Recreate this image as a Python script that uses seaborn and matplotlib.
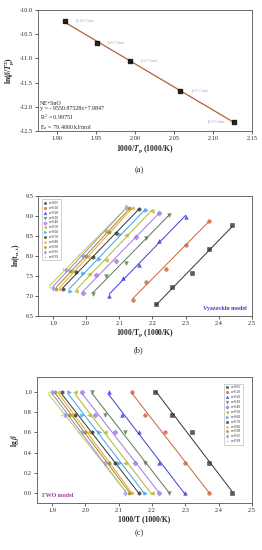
import numpy as np
import matplotlib
matplotlib.use("Agg")
import matplotlib.pyplot as plt
import seaborn as sns

sns.set_style("ticks")
plt.rcParams['font.family'] = ['Liberation Serif', 'DejaVu Serif']
plt.rcParams['mathtext.fontset'] = 'stix'

# panel (a): Kissinger plot
kis_x = [1.910, 1.951, 1.993, 2.058, 2.127]
kis_y = [-10.22, -10.69, -11.06, -11.68, -12.31]
rates = ['10', '6', '4', '2', '1']
rate_cols = ['#8fb0d8', '#a8a0b8', '#a0b8a8', '#8fb0d8', '#a898c0']

# panels (b), (c): isoconversional data, heating rates 10, 6, 4, 2, 1 °C/min
alphas = ['0.05', '0.10', '0.20', '0.30', '0.40', '0.50',
          '0.60', '0.70', '0.80', '0.90', '0.95', '0.99']
lg_beta = [1.0, 0.778, 0.602, 0.301, 0.0]
inv_T = [
    [2.21, 2.26, 2.32, 2.37, 2.44],
    [2.14, 2.18, 2.24, 2.30, 2.37],
    [2.07, 2.11, 2.16, 2.22, 2.30],
    [2.02, 2.06, 2.12, 2.18, 2.25],
    [1.99, 2.03, 2.09, 2.15, 2.22],
    [1.97, 2.01, 2.06, 2.12, 2.20],
    [1.95, 1.99, 2.04, 2.10, 2.18],
    [1.93, 1.97, 2.02, 2.09, 2.16],
    [1.92, 1.96, 2.01, 2.07, 2.14],
    [1.91, 1.95, 2.00, 2.07, 2.13],
    [1.90, 1.94, 1.99, 2.06, 2.12],
    [1.89, 1.93, 1.98, 2.06, 2.12],
]
ln_t = [
    [6.79, 7.23, 7.56, 8.17, 8.76],
    [6.90, 7.34, 7.68, 8.28, 8.87],
    [7.00, 7.44, 7.78, 8.38, 8.98],
    [7.05, 7.49, 7.83, 8.44, 9.03],
    [7.08, 7.53, 7.87, 8.48, 9.08],
    [7.11, 7.55, 7.90, 8.52, 9.12],
    [7.13, 7.58, 7.93, 8.54, 9.14],
    [7.16, 7.60, 7.96, 8.57, 9.17],
    [7.17, 7.62, 7.98, 8.59, 9.19],
    [7.18, 7.63, 7.99, 8.60, 9.20],
    [7.20, 7.65, 8.00, 8.62, 9.21],
    [7.21, 7.66, 8.01, 8.63, 9.22],
]
markers = ['s', 'o', '^', 'v', 'D', '<', '>', 'h', '*', 'p', 'd', '+']
colors = ['#333333', '#c8643c', '#3c3cdc', '#5a7a5a', '#a078e6', '#b4b428',
          '#3ca0e6', '#283c32', '#e6a03c', '#a08c14', '#8c8ce6', '#c8c850']

fig = plt.figure(figsize=(2.62, 5.5), dpi=100)
ax_a = fig.add_axes([0.145, 0.762, 0.817, 0.22])
ax_b = fig.add_axes([0.145, 0.426, 0.817, 0.218])
ax_c = fig.add_axes([0.141, 0.0855, 0.821, 0.229])


def style(ax):
    ax.tick_params(labelsize=4.5, length=2, width=0.5, pad=1.5)
    ax.tick_params(which='minor', length=1, width=0.4)
    for s in ax.spines.values():
        s.set_linewidth(0.6)
        s.set_color('#555555')


# (a)
sns.regplot(x=kis_x, y=kis_y, ax=ax_a, ci=None, marker='s', truncate=True,
            scatter_kws=dict(s=7, color='black', zorder=3),
            line_kws=dict(color='#b0603a', lw=0.9))
for x, y, r, c in zip(kis_x, kis_y, rates, rate_cols):
    if r == '1':
        ax_a.text(x - 0.012, y, f'β={r}°C/min', fontsize=2.8, color=c,
                  ha='right', va='center')
    else:
        ax_a.text(x + 0.014, y, f'β={r}°C/min', fontsize=2.8, color=c,
                  ha='left', va='center')
ax_a.text(1.878, -11.88, 'NE+SnO\ny = - 9550.87528x+7.9847\n'
          'R$^2$ = 0.99751\nE$_a$ = 79.4060 kJ/mol',
          fontsize=4.3, va='top', ha='left', linespacing=1.15)
ax_a.set_xlim(1.875, 2.15)
ax_a.set_ylim(-12.5, -10.0)
ax_a.set_xticks(np.arange(1.90, 2.151, 0.05))
ax_a.set_yticks(np.arange(-12.5, -9.99, 0.5))
ax_a.set_xticklabels([f'{v:.2f}' for v in np.arange(1.90, 2.151, 0.05)])
ax_a.set_yticklabels([f'{v:.1f}' for v in np.arange(-12.5, -9.99, 0.5)])
ax_a.set_xlabel('1000/$\\mathbfit{T}_\\mathbf{p}$ (1000/K)', fontsize=5.5,
                fontweight='bold', labelpad=2)
ax_a.set_ylabel('ln($\\mathbfit{\\beta}$/$\\mathbfit{T}_\\mathbf{p}^\\mathbf{2}$)',
                fontsize=5.5, fontweight='bold', labelpad=2)
style(ax_a)

# (b) and (c)
for i, a in enumerate(alphas):
    kw = dict(ci=None, marker=markers[i], color=colors[i], truncate=True,
              scatter_kws=dict(s=7, linewidths=0.4, zorder=3),
              line_kws=dict(lw=0.7))
    sns.regplot(x=inv_T[i], y=ln_t[i], ax=ax_b, label=f'α={a}', **kw)
    sns.regplot(x=inv_T[i], y=lg_beta, ax=ax_c, label=f'α={a}', **kw)

for ax in (ax_b, ax_c):
    ax.set_xlim(1.855, 2.5)
    ax.set_xticks(np.arange(1.9, 2.51, 0.1))
    ax.set_xticklabels([f'{v:.1f}' for v in np.arange(1.9, 2.51, 0.1)])
    style(ax)

ax_b.set_ylim(6.5, 9.5)
ax_b.set_yticks(np.arange(6.5, 9.51, 0.5))
ax_b.set_yticklabels([f'{v:.1f}' for v in np.arange(6.5, 9.51, 0.5)])
ax_b.set_xlabel('1000/T$_\\mathbf{p}$ (1000/K)', fontsize=5.5,
                fontweight='bold', labelpad=1.5)
ax_b.set_ylabel('ln(t$_{\\mathbf{\\alpha,i}}$)', fontsize=5.5,
                fontweight='bold', labelpad=2)
ax_b.text(2.485, 6.62, 'Vyazovkin model', fontsize=4.3, fontweight='bold',
          color='#3c3cc8', ha='right', va='bottom')
ax_b.legend(loc='upper left', fontsize=2.6, frameon=True, fancybox=False,
            edgecolor='#999999', handlelength=1.0, handletextpad=0.6,
            labelspacing=0.25, borderpad=0.4, markerscale=0.7,
            bbox_to_anchor=(0.01, 0.985)).get_frame().set_linewidth(0.4)

ax_c.set_ylim(-0.1, 1.15)
ax_c.set_yticks(np.arange(0, 1.01, 0.2))
ax_c.set_yticklabels([f'{v:.1f}' for v in np.arange(0, 1.01, 0.2)])
ax_c.set_xlabel('1000/T (1000/K)', fontsize=5.5, fontweight='bold', labelpad=2)
ax_c.set_ylabel('lg $\\mathbfit{\\beta}$', fontsize=5.5, fontweight='bold',
                labelpad=2)
ax_c.text(1.87, -0.03, 'FWO model', fontsize=4.3, fontweight='bold',
          color='#a04090', ha='left', va='center')
ax_c.legend(loc='upper right', fontsize=2.6, frameon=True, fancybox=False,
            edgecolor='#999999', handlelength=1.0, handletextpad=0.6,
            labelspacing=0.25, borderpad=0.4, markerscale=0.7,
            bbox_to_anchor=(0.965, 0.96)).get_frame().set_linewidth(0.4)

for y, lab in [(0.691, '(a)'), (0.364, '(b)'), (0.031, '(c)')]:
    fig.text(0.53, y, lab, fontsize=6, ha='center', va='center')

fig.savefig('out.png', dpi=100)
